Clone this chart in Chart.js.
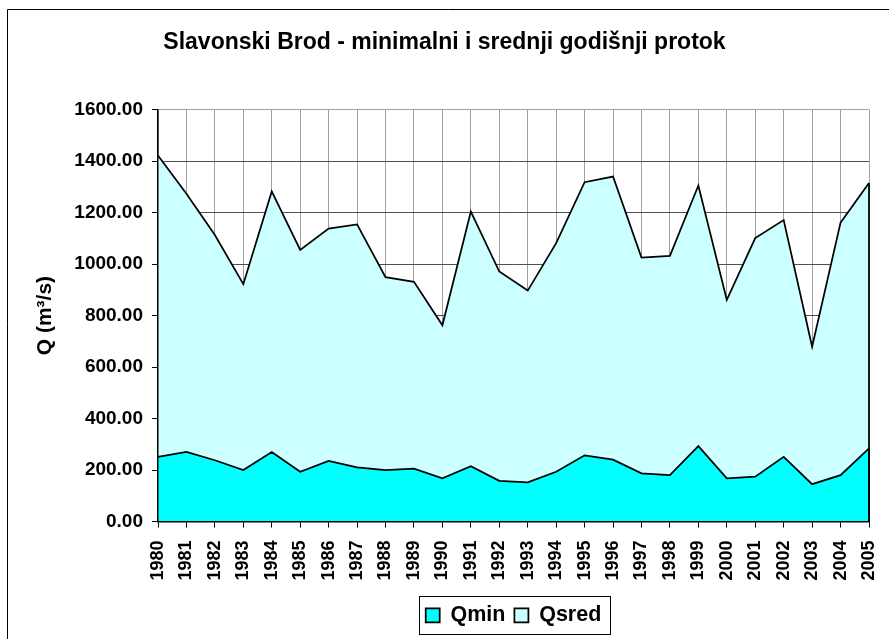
<!DOCTYPE html>
<html>
<head>
<meta charset="utf-8">
<script src="https://cdn.jsdelivr.net/npm/chart.js@4/dist/chart.umd.min.js"></script>
<style>
    body { margin: 0; background: #ffffff; }
    #flow-chart { display: block; background: #ffffff; }
</style>
</head>
<body>
<canvas id="flow-chart" width="889" height="639"></canvas>
<script>
const years = ['1980', '1981', '1982', '1983', '1984', '1985', '1986', '1987', '1988', '1989',
    '1990', '1991', '1992', '1993', '1994', '1995', '1996', '1997', '1998', '1999',
    '2000', '2001', '2002', '2003', '2004', '2005'];

const qmin = [251, 270, 238, 200, 270, 193, 235, 210, 200, 205,
    168, 215, 158, 152, 193, 257, 240, 187, 180, 293,
    168, 174, 251, 145, 180, 284];

const qsred = [1422, 1273, 1113, 922, 1282, 1055, 1138, 1154, 949, 931,
    762, 1204, 971, 897, 1081, 1318, 1340, 1025, 1032, 1305,
    861, 1101, 1171, 679, 1161, 1315];

const yMin = 0;
const yMax = 1600;
const yStep = 200;

const fontFamily = '"Liberation Sans", Arial, sans-serif';

// outer frame of the chart (only top and left edges are inside the picture)
const framePlugin = {
    id: 'frame',
    beforeDraw(chart) {
        const ctx = chart.ctx;
        ctx.save();
        ctx.fillStyle = '#ffffff';
        ctx.fillRect(0, 0, chart.width, chart.height);
        ctx.strokeStyle = '#000000';
        ctx.lineWidth = 1;
        ctx.beginPath();
        ctx.moveTo(7.5, chart.height);
        ctx.lineTo(7.5, 9.5);
        ctx.lineTo(chart.width, 9.5);
        ctx.stroke();
        ctx.restore();
    }
};

// closes the right edge of each area down to the axis, like Excel does
const areaEdgePlugin = {
    id: 'areaEdge',
    afterDatasetsDraw(chart) {
        const ctx = chart.ctx;
        const base = chart.scales.y.getPixelForValue(0);
        ctx.save();
        ctx.strokeStyle = '#000000';
        ctx.lineWidth = 1.75;
        chart.data.datasets.forEach((ds, i) => {
            const pts = chart.getDatasetMeta(i).data;
            const last = pts[pts.length - 1];
            ctx.beginPath();
            ctx.moveTo(last.x, last.y);
            ctx.lineTo(last.x, base);
            ctx.stroke();
        });
        ctx.restore();
    }
};

// box round the legend
const legendBoxPlugin = {
    id: 'legendBox',
    afterDraw(chart) {
        const boxes = chart.legend.legendHitBoxes;
        if (!boxes || !boxes.length) return;
        const left = Math.min(...boxes.map(b => b.left));
        const right = Math.max(...boxes.map(b => b.left + b.width));
        const top = boxes[0].top;
        const h = boxes[0].height;
        const ctx = chart.ctx;
        ctx.save();
        ctx.strokeStyle = '#000000';
        ctx.lineWidth = 1;
        ctx.strokeRect(Math.round(left - 7) + 0.5, Math.round(top + h / 2 - 19) + 0.5,
            Math.round(right - left + 15), 38);
        ctx.restore();
    }
};

const ctx = document.getElementById('flow-chart').getContext('2d');
new Chart(ctx, {
    type: 'line',
    data: {
        labels: years,
        datasets: [{
            label: 'Qmin',
            data: qmin,
            backgroundColor: '#00ffff',
            borderColor: '#000000',
            borderWidth: 1.75,
            fill: 'origin',
            pointRadius: 0,
            tension: 0
        }, {
            label: 'Qsred',
            data: qsred,
            backgroundColor: '#ccffff',
            borderColor: '#000000',
            borderWidth: 1.75,
            fill: 'origin',
            pointRadius: 0,
            tension: 0
        }]
    },
    options: {
        responsive: false,
        animation: false,
        events: [],
        layout: {
            padding: { left: 0, right: 0, top: 0, bottom: 3 }
        },
        scales: {
            x: {
                offset: false,
                afterFit: scale => {
                    scale.height = 74;
                    scale.paddingLeft = 0;
                    scale.paddingRight = 20;
                },
                ticks: {
                    autoSkip: false,
                    maxRotation: 90,
                    minRotation: 90,
                    padding: 13,
                    color: '#000000',
                    font: { family: fontFamily, size: 18, weight: 'bold' }
                },
                grid: {
                    color: '#a0a0a0',
                    lineWidth: 1,
                    tickLength: 6,
                    tickColor: '#000000'
                },
                border: { color: '#000000', width: 1.5, z: 1 }
            },
            y: {
                min: yMin,
                max: yMax,
                afterFit: scale => { scale.width = 158; },
                ticks: {
                    stepSize: yStep,
                    padding: 9,
                    color: '#000000',
                    font: { family: fontFamily, size: 19, weight: 'bold' },
                    callback: value => value.toFixed(2)
                },
                grid: {
                    color: c => (c.tick && c.tick.value === yMax) ? '#a0a0a0' : '#505050',
                    lineWidth: 1,
                    tickLength: 6,
                    tickColor: '#000000'
                },
                border: { color: '#000000', width: 1.5, z: 1 },
                title: {
                    display: true,
                    text: 'Q (m³/s)',
                    color: '#000000',
                    padding: { top: 33, bottom: 0 },
                    font: { family: fontFamily, size: 21, weight: 'bold' }
                }
            }
        },
        plugins: {
            title: {
                display: true,
                text: 'Slavonski Brod - minimalni i srednji godišnji protok',
                color: '#000000',
                padding: { top: 29, bottom: 53 },
                font: { family: fontFamily, size: 23, weight: 'bold', lineHeight: 1.2 }
            },
            legend: {
                position: 'bottom',
                fullSize: false,
                labels: {
                    color: '#000000',
                    boxWidth: 14,
                    boxHeight: 14,
                    padding: 9,
                    font: { family: fontFamily, size: 21.5, weight: 'bold' }
                }
            },
            tooltip: { enabled: false }
        }
    },
    plugins: [framePlugin, areaEdgePlugin, legendBoxPlugin]
});
</script>
</body>
</html>
